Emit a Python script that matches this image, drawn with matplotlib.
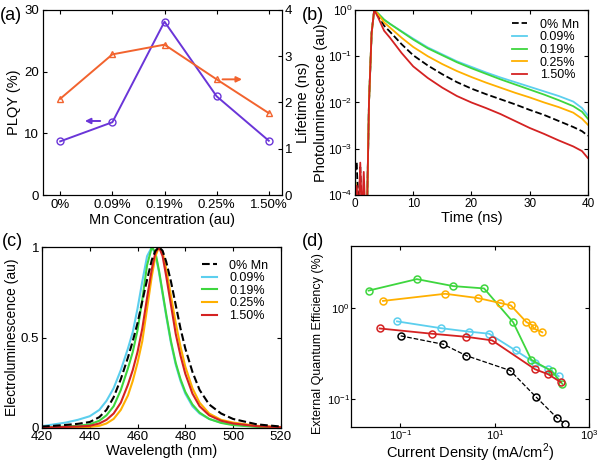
import matplotlib
matplotlib.use("Agg")
import matplotlib.pyplot as plt
import numpy as np

plt.rcParams['font.family'] = ['Liberation Sans', 'DejaVu Sans']
plt.rcParams['font.size'] = 10
plt.rcParams['mathtext.fontset'] = 'custom'
plt.rcParams['mathtext.rm'] = 'Liberation Sans'

#####################################################################
# data: (a) PLQY and lifetime vs Mn concentration
conc_labels = ['0%', '0.09%', '0.19%', '0.25%', '1.50%']
plqy = [8.7, 11.8, 28.1, 16.0, 8.8]
lifetime = [2.08, 3.04, 3.25, 2.50, 1.77]

# (b) PL decay, values stored as log10(PL)
series_names = ['0% Mn', '0.09%', '0.19%', '0.25%', '1.50%']
t_ns = [0, 0.3, 0.6, 0.9, 1.2, 1.5, 1.8, 2.1, 2.4, 2.85, 3.3,
        4, 5, 6, 8, 10, 12.5, 15, 17.5, 20, 22.5, 25, 27.5, 30,
        32.5, 35, 37.5, 39, 40]
pl_0 = [-3.5, -3.3, -4.5, -3.4, -4.5, -4.5, -4.5, -4.1, -2.0, -0.5, 0,
        -0.13, -0.34, -0.47, -0.74, -0.98, -1.2, -1.39, -1.56, -1.70, -1.82,
        -1.93, -2.04, -2.16, -2.27, -2.40, -2.53, -2.62, -2.72]
pl_009 = [-3.8, -4.5, -4.5, -4.5, -4.5, -4.5, -4.5, -4.1, -2.0, -0.5, 0,
          -0.08, -0.21, -0.30, -0.46, -0.62, -0.81, -0.96, -1.11, -1.23, -1.35,
          -1.46, -1.56, -1.66, -1.76, -1.86, -1.98, -2.12, -2.28]
pl_019 = [-3.6, -4.5, -4.5, -4.5, -4.5, -4.5, -4.5, -4.1, -2.0, -0.5, 0,
          -0.08, -0.21, -0.30, -0.47, -0.64, -0.83, -0.98, -1.13, -1.26, -1.38,
          -1.50, -1.61, -1.72, -1.83, -1.95, -2.08, -2.20, -2.35]
pl_025 = [-3.7, -3.9, -4.5, -4.5, -4.5, -4.5, -4.5, -4.1, -2.0, -0.5, 0,
          -0.10, -0.27, -0.38, -0.60, -0.80, -1.0, -1.17, -1.32, -1.45, -1.57,
          -1.68, -1.79, -1.89, -2.00, -2.10, -2.22, -2.35, -2.48]
pl_150 = [-4.5, -3.8, -4.5, -3.3, -4.5, -3.5, -4.5, -4.1, -2.0, -0.5, 0,
          -0.17, -0.45, -0.60, -0.93, -1.22, -1.47, -1.68, -1.86, -2.00, -2.12,
          -2.25, -2.40, -2.55, -2.68, -2.82, -2.95, -3.05, -3.20]

# (c) EL spectra
wl = [420, 425, 430, 435, 440, 444, 447, 450, 453, 456, 458, 460, 462, 464, 466,
      467.5, 469, 470.5, 472, 474, 476, 478, 480, 483, 486, 490, 495, 500, 510, 520]
el_0 = [0.008, 0.012, 0.017, 0.023, 0.033, 0.06, 0.10, 0.17, 0.27, 0.39, 0.48, 0.58,
        0.70, 0.82, 0.93, 0.98, 1.0, 0.98, 0.92, 0.81, 0.68, 0.55, 0.44, 0.31, 0.21,
        0.13, 0.08, 0.05, 0.02, 0.008]
el_009 = [0.01, 0.02, 0.03, 0.045, 0.065, 0.10, 0.15, 0.22, 0.32, 0.44, 0.53, 0.66,
          0.81, 0.95, 1.0, 0.96, 0.86, 0.74, 0.62, 0.47, 0.35, 0.26, 0.19, 0.12, 0.08,
          0.05, 0.03, 0.02, 0.008, 0.003]
el_019 = [0.003, 0.005, 0.008, 0.012, 0.02, 0.04, 0.07, 0.12, 0.21, 0.33, 0.42, 0.54,
          0.71, 0.90, 1.0, 0.97, 0.87, 0.75, 0.63, 0.48, 0.36, 0.27, 0.20, 0.13, 0.085,
          0.05, 0.028, 0.016, 0.006, 0.002]
el_025 = [0.002, 0.002, 0.003, 0.004, 0.006, 0.012, 0.025, 0.05, 0.10, 0.18, 0.26, 0.36,
          0.48, 0.66, 0.84, 0.95, 1.0, 0.97, 0.88, 0.73, 0.58, 0.45, 0.34, 0.22, 0.14,
          0.08, 0.045, 0.03, 0.012, 0.005]
el_150 = [0.003, 0.004, 0.006, 0.008, 0.012, 0.025, 0.045, 0.08, 0.14, 0.24, 0.32, 0.42,
          0.55, 0.72, 0.88, 0.97, 1.0, 0.95, 0.84, 0.68, 0.52, 0.40, 0.30, 0.19, 0.12,
          0.07, 0.04, 0.025, 0.01, 0.004]

# (d) EQE vs current density
j_0 = [0.1016, 0.81, 2.49, 21.2, 73.3, 205, 313]
eqe_0 = [0.50, 0.404, 0.303, 0.208, 0.1076, 0.0632, 0.0537]
j_009 = [0.0849, 0.71, 2.84, 7.57, 27.5, 71.0, 134, 226]
eqe_009 = [0.721, 0.608, 0.556, 0.528, 0.346, 0.252, 0.217, 0.180]
j_019 = [0.0212, 0.223, 1.32, 5.93, 24.5, 59.3, 160.7, 271]
eqe_019 = [1.57, 2.10, 1.76, 1.66, 0.705, 0.273, 0.205, 0.148]
j_025 = [0.0428, 0.891, 4.42, 12.8, 21.9, 46.5, 62.2, 66.5, 101.6]
eqe_025 = [1.21, 1.45, 1.30, 1.15, 1.08, 0.71, 0.655, 0.603, 0.547]
j_150 = [0.0363, 0.457, 2.49, 8.77, 71.0, 136, 249]
eqe_150 = [0.603, 0.528, 0.488, 0.446, 0.215, 0.189, 0.155]

#####################################################################
# colours
purple = '#6a35d8'
orangered = '#f2632e'
colors = ['k', '#5ccfee', '#3ed63e', '#ffb000', '#d42222']

def style(ax, ls=9.5, pad=2):
    ax.tick_params(direction='in', top=True, right=True, length=3, labelsize=ls, pad=pad)
    for s in ax.spines.values():
        s.set_linewidth(0.9)

fig = plt.figure(figsize=(6, 4.65), dpi=100)

#####################################################################
# (a)
axa = fig.add_axes([0.0717, 0.5806, 0.398, 0.398])
xa = np.arange(len(conc_labels))
axa.plot(xa, plqy, '-o', color=purple, mfc='none', ms=5, lw=1.4)
axa.set_ylim(0, 30)
axa.set_yticks([0, 10, 20, 30])
axa.set_xlim(-0.33, 4.25)
axa.set_xticks(xa)
axa.set_xticklabels(conc_labels)
axa.set_ylabel('PLQY (%)', fontsize=10.5, labelpad=2)
axa.set_xlabel('Mn Concentration (au)', fontsize=10.5, labelpad=1)
axa.tick_params(direction='in', top=True, length=3, labelsize=9.5, pad=3)
axa.annotate('', xy=(0.42, 12), xytext=(0.82, 12),
             arrowprops=dict(arrowstyle='-|>', color=purple, lw=1.4, mutation_scale=8))
axb2 = axa.twinx()
axb2.plot(xa, lifetime, '-^', color=orangered, mfc='none', ms=5, lw=1.4)
axb2.set_ylim(0, 4)
axb2.set_yticks([0, 1, 2, 3, 4])
axb2.set_ylabel('Lifetime (ns)', fontsize=10.5, labelpad=3)
axb2.tick_params(direction='in', length=3, labelsize=9.5, pad=2)
axb2.annotate('', xy=(3.54, 2.5), xytext=(3.06, 2.5),
              arrowprops=dict(arrowstyle='-|>', color=orangered, lw=1.4, mutation_scale=8))
fig.text(0.0, 0.985, '(a)', fontsize=13, va='top')

#####################################################################
# (b)
axb = fig.add_axes([0.5917, 0.5806, 0.388, 0.398])
pl_all = [pl_0, pl_009, pl_019, pl_025, pl_150]
for name, vals, c in zip(series_names, pl_all, colors):
    ls = '--' if name == '0% Mn' else '-'
    axb.plot(t_ns, 10 ** np.array(vals), ls, color=c, lw=1.3, label=name)
axb.set_yscale('log')
axb.set_ylim(1e-4, 1)
axb.set_xlim(0, 40)
axb.set_xticks([0, 10, 20, 30, 40])
axb.set_yticks([1e-4, 1e-3, 1e-2, 1e-1, 1])
axb.yaxis.set_minor_locator(matplotlib.ticker.NullLocator())
axb.set_xlabel('Time (ns)', fontsize=10.5, labelpad=1)
axb.set_ylabel('Photoluminescence (au)', fontsize=10.5, labelpad=0)
style(axb, 8.5)
axb.legend(loc='upper right', frameon=False, fontsize=9, handlelength=1.2,
           labelspacing=0.05, borderaxespad=0.3, handletextpad=1.0)
fig.text(0.503, 0.985, '(b)', fontsize=13, va='top')

#####################################################################
# (c)
axc = fig.add_axes([0.07, 0.0796, 0.398, 0.389])
el_all = [el_0, el_009, el_019, el_025, el_150]
order = [1, 2, 3, 4, 0]
lines = {}
for i in order:
    ls = '--' if i == 0 else '-'
    lines[i], = axc.plot(wl, el_all[i], ls, color=colors[i], lw=1.5, label=series_names[i])
axc.set_xlim(420, 520)
axc.set_ylim(0, 1)
axc.set_xticks([420, 440, 460, 480, 500, 520])
axc.set_yticks([0, 0.5, 1])
axc.set_yticklabels(['0', '0.5', '1'])
axc.set_xlabel('Wavelength (nm)', fontsize=10.5, labelpad=1)
axc.set_ylabel('Electroluminescence (au)', fontsize=10, labelpad=1)
style(axc)
axc.legend([lines[i] for i in range(5)], series_names, loc='upper right', frameon=False,
           fontsize=9, handlelength=1.2, labelspacing=0.05, borderaxespad=0.6,
           handletextpad=1.0)
fig.text(0.003, 0.5, '(c)', fontsize=13, va='top')

#####################################################################
# (d)
axd = fig.add_axes([0.585, 0.082, 0.397, 0.388])
j_all = [j_0, j_009, j_019, j_025, j_150]
eqe_all = [eqe_0, eqe_009, eqe_019, eqe_025, eqe_150]
for i in [0, 1, 2, 3, 4]:
    ls = '--' if i == 0 else '-'
    lw = 0.9 if i == 0 else 1.3
    axd.plot(j_all[i], eqe_all[i], ls, color=colors[i], marker='o', mfc='none',
             ms=5, mew=1.1, lw=lw)
axd.set_xscale('log')
axd.set_yscale('log')
axd.set_xlim(9e-3, 1e3)
axd.set_ylim(0.05, 4.8)
axd.set_xticks([1e-1, 1e1, 1e3])
axd.set_yticks([1e-1, 1e0])
axd.xaxis.set_minor_locator(matplotlib.ticker.NullLocator())
axd.yaxis.set_minor_locator(matplotlib.ticker.NullLocator())
axd.set_xlabel('Current Density (mA/cm$^2$)', fontsize=10.5, labelpad=0)
axd.set_ylabel('External Quantum Efficiency (%)', fontsize=9, labelpad=1)
axd.yaxis.set_label_coords(-0.115, 0.46)
style(axd, 8, pad=1)
fig.text(0.503, 0.5, '(d)', fontsize=13, va='top')

fig.savefig('out.png', dpi=100)
